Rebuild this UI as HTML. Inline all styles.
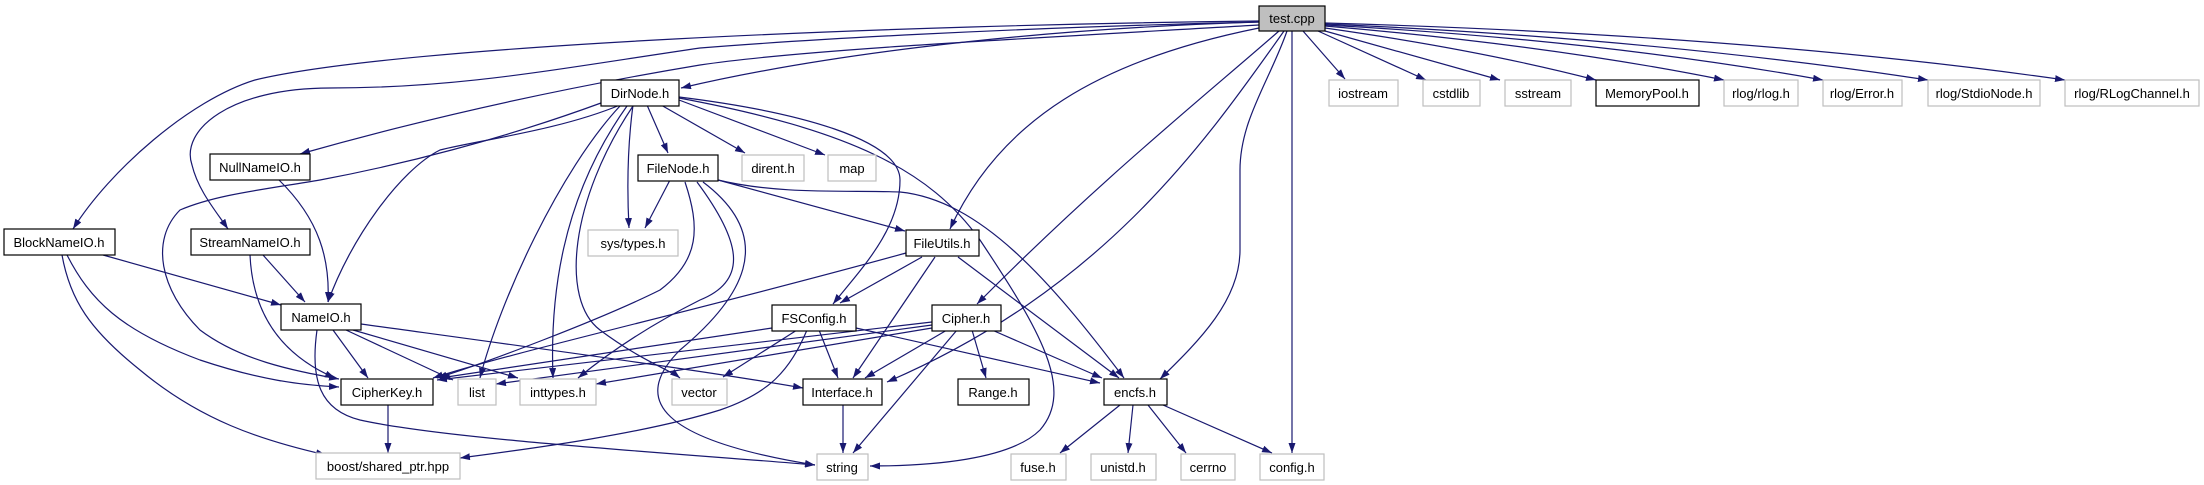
<!DOCTYPE html>
<html><head><meta charset="utf-8"><style>
html,body{margin:0;padding:0;background:#fff;}
svg{display:block;}
text{font-family:"Liberation Sans",Arial,sans-serif;font-size:13px;fill:#000;text-anchor:middle;}
.e{fill:none;stroke:#191970;stroke-width:1.2;marker-end:url(#a);}
.b{fill:#fff;stroke:#000;stroke-width:1.2;}
.g{fill:#fff;stroke:#bfbfbf;stroke-width:1.2;}
</style></head><body>
<svg width="2204" height="485" viewBox="0 0 2204 485" xmlns="http://www.w3.org/2000/svg">
<defs><marker id="a" markerUnits="userSpaceOnUse" markerWidth="11" markerHeight="8" refX="10" refY="3.5" orient="auto"><path d="M0,0 L10,3.5 L0,7 z" fill="#191970"/></marker></defs>
<g>
<path class="e" d="M1259,22 C1000,30 800,60 681,88"/>
<path class="e" d="M1259,21 C900,25 400,45 255,80 C190,100 110,170 73,229"/>
<path class="e" d="M1259,22 C1000,28 800,40 700,48 C550,70 460,88 330,88 C230,88 180,130 192,165 C198,190 215,210 228,229"/>
<path class="e" d="M1259,25 C1000,40 800,50 700,65 C550,90 420,120 300,154"/>
<path class="e" d="M1259,28 C1100,60 1000,120 950,229"/>
<path class="e" d="M1279,31 C1200,100 1100,180 977,304"/>
<path class="e" d="M1284,31 C1200,150 1100,290 887,382"/>
<path class="e" d="M1287,31 C1270,80 1240,120 1240,170 L1240,250 C1240,300 1200,340 1160,379"/>
<path class="e" d="M1292,31 L1292,453"/>
<path class="e" d="M1303,31 L1345,79"/>
<path class="e" d="M1318,31 L1426,80"/>
<path class="e" d="M1325,31 L1500,80"/>
<path class="e" d="M1325,28 Q1480,50 1596,80"/>
<path class="e" d="M1325,26 Q1550,45 1724,80"/>
<path class="e" d="M1325,25 Q1600,40 1823,80"/>
<path class="e" d="M1325,24 Q1650,38 1928,80"/>
<path class="e" d="M1325,23 Q1750,35 2065,80"/>

<path class="e" d="M601,103 C500,140 400,165 320,180 C260,190 215,195 180,210 C150,240 160,290 200,330 C240,360 290,370 339,379"/>
<path class="e" d="M620,105 C560,130 480,140 440,150 C400,170 350,240 328,302"/>
<path class="e" d="M620,106 C560,170 500,300 480,378"/>
<path class="e" d="M627,106 C560,200 550,300 553,378"/>
<path class="e" d="M633,106 C570,200 560,300 600,330 C640,360 670,370 680,378"/>
<path class="e" d="M633,105 C627,150 627,190 629,228"/>
<path class="e" d="M647,105 L668,153"/>
<path class="e" d="M661,105 L745,153"/>
<path class="e" d="M679,100 L825,155"/>
<path class="e" d="M679,97 C800,112 900,140 900,180 C900,230 860,270 833,304"/>
<path class="e" d="M679,98 C850,130 930,170 980,240 C1040,330 1075,390 1040,430 C1010,460 930,466 870,466"/>

<path class="e" d="M670,180 L645,228"/>
<path class="e" d="M685,182 C700,227 700,260 660,290 C600,320 480,365 437,378"/>
<path class="e" d="M697,182 C740,240 750,280 700,300 C640,330 600,360 578,378"/>
<path class="e" d="M703,182 C780,240 740,300 680,350 C630,400 660,440 815,465"/>
<path class="e" d="M718,180 L905,231"/>
<path class="e" d="M718,180 C780,195 850,190 900,192 C980,200 1050,280 1124,378"/>

<path class="e" d="M906,253 C700,310 520,350 433,378"/>
<path class="e" d="M922,257 L840,303"/>
<path class="e" d="M935,257 L853,378"/>
<path class="e" d="M958,257 L1119,378"/>

<path class="e" d="M772,328 L440,378"/>
<path class="e" d="M797,330 L723,377"/>
<path class="e" d="M819,330 L838,378"/>
<path class="e" d="M856,328 L1100,383"/>
<path class="e" d="M807,330 C790,370 770,393 720,410 C640,435 520,450 460,458"/>

<path class="e" d="M932,322 L437,380"/>
<path class="e" d="M932,325 L496,384"/>
<path class="e" d="M932,328 L596,384"/>
<path class="e" d="M947,330 L865,378"/>
<path class="e" d="M957,330 L853,453"/>
<path class="e" d="M972,330 L986,378"/>
<path class="e" d="M992,330 L1102,378"/>

<path class="e" d="M333,330 L368,378"/>
<path class="e" d="M346,330 L453,380"/>
<path class="e" d="M353,330 L518,378"/>
<path class="e" d="M361,324 C550,350 700,370 803,388"/>
<path class="e" d="M317,330 C310,380 320,410 360,420 C450,440 700,455 815,465"/>

<path class="e" d="M103,255 L281,305"/>
<path class="e" d="M67,255 C90,300 120,330 200,360 C260,380 300,385 339,387"/>
<path class="e" d="M62,255 C70,300 90,330 140,370 C200,420 260,440 326,455"/>
<path class="e" d="M263,255 L305,302"/>
<path class="e" d="M250,255 C252,300 270,350 335,378"/>
<path class="e" d="M279,180 C320,220 330,260 328,302"/>

<path class="e" d="M388,405 L388,453"/>
<path class="e" d="M843,405 L843,453"/>
<path class="e" d="M1120,405 L1060,453"/>
<path class="e" d="M1133,405 L1128,453"/>
<path class="e" d="M1148,405 L1186,453"/>
<path class="e" d="M1163,405 L1272,453"/>
</g>

<rect x="1259" y="6" width="66" height="25" fill="#bfbfbf" stroke="#000" stroke-width="1.2"/><text x="1292" y="23">test.cpp</text>

<rect class="g" x="1329" y="80" width="69" height="26"/><text x="1363" y="98">iostream</text>
<rect class="g" x="1423" y="80" width="57" height="26"/><text x="1451" y="98">cstdlib</text>
<rect class="g" x="1505" y="80" width="66" height="26"/><text x="1538" y="98">sstream</text>
<rect class="b" x="1596" y="80" width="103" height="26"/><text x="1647" y="98">MemoryPool.h</text>
<rect class="g" x="1724" y="80" width="74" height="26"/><text x="1761" y="98">rlog/rlog.h</text>
<rect class="g" x="1823" y="80" width="79" height="26"/><text x="1862" y="98">rlog/Error.h</text>
<rect class="g" x="1928" y="80" width="112" height="26"/><text x="1984" y="98">rlog/StdioNode.h</text>
<rect class="g" x="2065" y="80" width="134" height="26"/><text x="2132" y="98">rlog/RLogChannel.h</text>
<rect class="b" x="601" y="80" width="78" height="26"/><text x="640" y="98">DirNode.h</text>

<rect class="b" x="210" y="154" width="100" height="26"/><text x="260" y="172">NullNameIO.h</text>
<rect class="b" x="638" y="155" width="80" height="26"/><text x="678" y="173">FileNode.h</text>
<rect class="g" x="742" y="155" width="62" height="26"/><text x="773" y="173">dirent.h</text>
<rect class="g" x="828" y="155" width="48" height="26"/><text x="852" y="173">map</text>

<rect class="b" x="4" y="229" width="111" height="26"/><text x="59" y="247">BlockNameIO.h</text>
<rect class="b" x="191" y="229" width="119" height="26"/><text x="250" y="247">StreamNameIO.h</text>
<rect class="g" x="588" y="230" width="90" height="26"/><text x="633" y="248">sys/types.h</text>
<rect class="b" x="906" y="230" width="73" height="26"/><text x="942" y="248">FileUtils.h</text>

<rect class="b" x="281" y="304" width="80" height="26"/><text x="321" y="322">NameIO.h</text>
<rect class="b" x="772" y="305" width="84" height="26"/><text x="814" y="323">FSConfig.h</text>
<rect class="b" x="932" y="305" width="69" height="26"/><text x="966" y="323">Cipher.h</text>

<rect class="b" x="341" y="379" width="92" height="26"/><text x="387" y="397">CipherKey.h</text>
<rect class="g" x="458" y="379" width="38" height="26"/><text x="477" y="397">list</text>
<rect class="g" x="520" y="379" width="76" height="26"/><text x="558" y="397">inttypes.h</text>
<rect class="g" x="672" y="379" width="55" height="26"/><text x="699" y="397">vector</text>
<rect class="b" x="803" y="379" width="79" height="26"/><text x="842" y="397">Interface.h</text>
<rect class="b" x="958" y="379" width="71" height="26"/><text x="993" y="397">Range.h</text>
<rect class="b" x="1104" y="379" width="63" height="26"/><text x="1135" y="397">encfs.h</text>

<rect class="g" x="316" y="453" width="144" height="26"/><text x="388" y="471">boost/shared_ptr.hpp</text>
<rect class="g" x="817" y="454" width="51" height="26"/><text x="842" y="472">string</text>
<rect class="g" x="1011" y="454" width="55" height="26"/><text x="1038" y="472">fuse.h</text>
<rect class="g" x="1091" y="454" width="65" height="26"/><text x="1123" y="472">unistd.h</text>
<rect class="g" x="1181" y="454" width="54" height="26"/><text x="1208" y="472">cerrno</text>
<rect class="g" x="1260" y="454" width="64" height="26"/><text x="1292" y="472">config.h</text>
</svg>
</body></html>
